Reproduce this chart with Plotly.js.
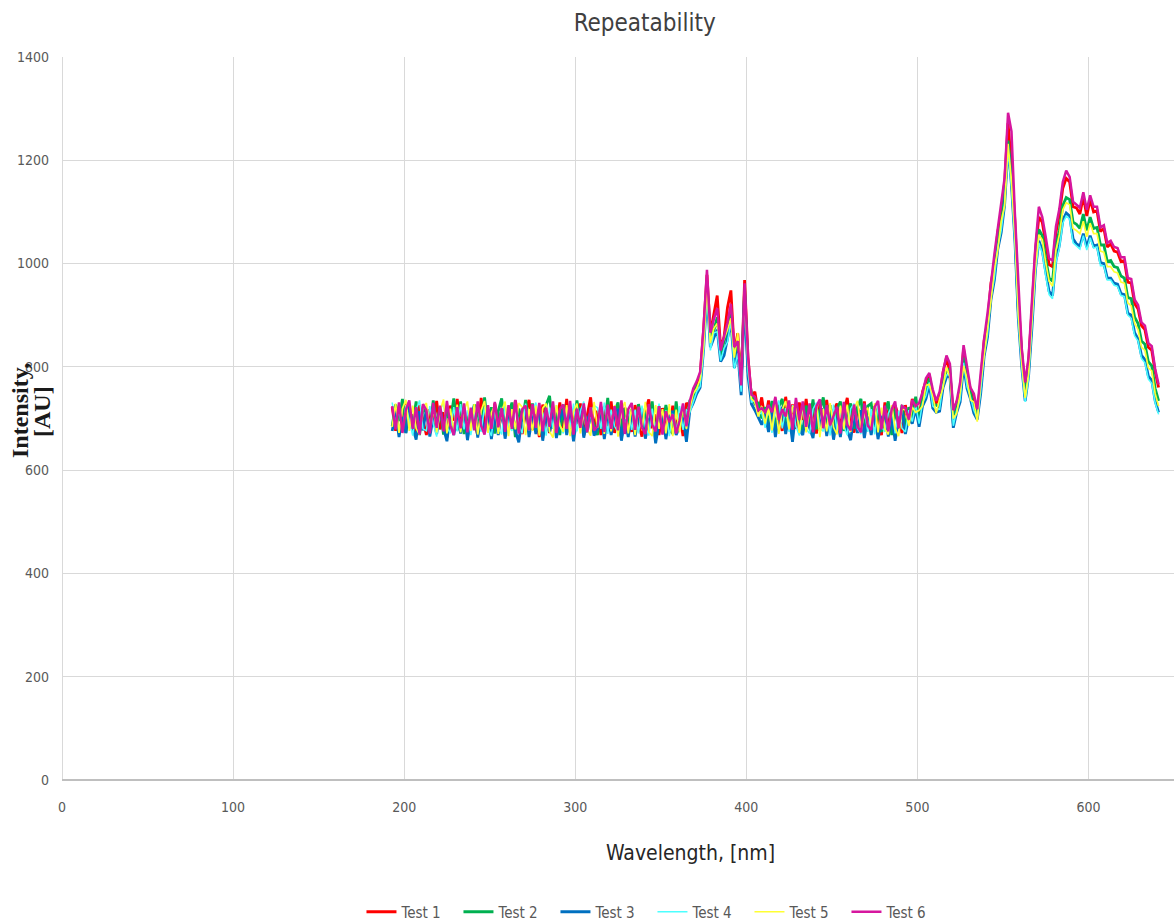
<!DOCTYPE html>
<html>
<head>
<meta charset="utf-8">
<script src="https://cdn.plot.ly/plotly-3.0.1.min.js"></script>
<style>html,body{margin:0;padding:0;background:#fff;}#chart{width:1174px;height:923px;}</style>
</head>
<body>
<div id="chart"></div>
<script>
const wavelength = [
193,195,197,199,201,203,205,207,209,211,
213,215,217,219,221,223,225,227,229,231,
233,235,237,239,241,243,245,247,249,251,
253,255,257,259,261,263,265,267,269,271,
273,275,277,279,281,283,285,287,289,291,
293,295,297,299,301,303,305,307,309,311,
313,315,317,319,321,323,325,327,329,331,
333,335,337,339,341,343,345,347,349,351,
353,355,357,359,361,363,365,367,369,371,
373,375,377,379,381,383,385,387,389,391,
393,395,397,399,401,403,405,407,409,411,
413,415,417,419,421,423,425,427,429,431,
433,435,437,439,441,443,445,447,449,451,
453,455,457,459,461,463,465,467,469,471,
473,475,477,479,481,483,485,487,489,491,
493,495,497,499,501,503,505,507,509,511,
513,515,517,519,521,523,525,527,529,531,
533,535,537,539,541,543,545,547,549,551,
553,555,557,559,561,563,565,567,569,571,
573,575,577,579,581,583,585,587,589,591,
593,595,597,599,601,603,605,607,609,611,
613,615,617,619,621,623,625,627,629,631,
633,635,637,639,641
];

const test1 = [
722,676,715,690,731,682,708,671,726,694,
668,718,687,734,679,712,663,725,696,738,
684,721,670,712,693,668,740,688,716,675,
729,691,716,667,722,684,735,702,670,713,
736,678,709,664,727,695,672,718,689,731,
681,738,673,712,690,729,667,706,741,679,
715,668,724,686,733,672,710,662,721,697,
674,726,690,665,716,737,681,708,668,720,
693,672,725,681,711,666,730,722,752,768,
782,870,978,865,898,938,836,858,915,948,
828,865,768,968,818,742,752,712,741,696,
735,688,730,702,676,742,693,727,680,731,
697,738,683,719,671,728,694,736,678,716,
729,684,714,740,690,673,722,695,733,681,
678,724,691,668,731,698,680,725,706,672,
726,690,738,716,698,752,772,785,741,730,
738,790,818,786,712,732,750,835,779,758,
728,712,770,850,886,962,998,1062,1094,1158,
1272,1190,1082,928,828,752,812,912,1024,1090,
1080,1040,998,994,1060,1096,1146,1165,1158,1110,
1108,1096,1130,1092,1124,1100,1102,1062,1068,1032,
1038,1024,1022,1004,1006,964,962,922,912,880,
872,838,832,790,760
];

const test2 = [
685,727,695,738,672,714,690,733,668,719,
712,679,735,684,723,669,716,692,739,677,
733,670,707,688,727,712,676,741,682,722,
671,714,739,678,706,731,664,719,694,736,
690,729,675,718,662,726,744,680,715,668,
727,686,716,671,735,690,722,673,709,688,
668,722,683,740,676,713,731,679,720,692,
718,670,728,693,712,680,733,666,724,685,
726,689,670,733,680,717,694,735,740,762,
768,850,958,860,870,896,822,850,866,908,
812,848,770,950,792,748,728,730,700,722,
688,734,680,723,738,684,719,672,730,693,
676,725,692,737,679,716,741,683,726,670,
718,733,676,712,729,680,722,738,674,724,
729,683,718,674,713,733,668,719,680,726,
681,722,702,742,694,738,750,778,728,726,
722,772,792,796,690,726,742,818,770,750,
720,710,760,832,872,944,982,1044,1076,1132,
1238,1166,1062,908,815,742,795,890,1004,1066,
1054,1010,972,966,1036,1064,1112,1128,1124,1080,
1076,1068,1096,1064,1090,1068,1070,1036,1036,1004,
1006,994,992,976,972,934,932,896,884,850,
844,810,802,758,734
];

const test3 = [
676,712,664,703,672,725,683,659,714,677,
719,665,702,670,722,681,656,710,668,706,
671,715,658,700,724,663,707,672,718,660,
708,668,719,661,697,716,676,654,705,722,
664,706,670,718,657,709,674,713,662,701,
716,668,708,656,702,720,663,697,712,667,
679,714,660,707,668,703,719,657,698,664,
713,665,702,719,661,696,708,652,693,709,
660,701,715,668,684,702,655,716,730,748,
760,832,946,838,856,872,810,822,855,888,
798,830,745,942,782,728,716,702,688,708,
674,718,664,706,722,670,708,655,715,679,
668,711,682,662,716,676,720,666,706,659,
702,664,713,677,658,708,672,716,662,704,
668,707,660,699,716,665,704,657,697,713,
670,702,690,720,684,724,738,766,720,712,
714,760,780,784,682,712,732,804,758,738,
710,698,748,820,858,930,968,1028,1060,1114,
1228,1152,1046,894,800,734,782,878,988,1044,
1026,984,946,938,1006,1036,1084,1098,1092,1048,
1038,1034,1058,1032,1054,1034,1036,1002,1000,972,
972,962,960,942,940,904,900,866,854,822,
814,782,774,734,712
];

const test4 = [
731,688,718,672,726,694,667,717,735,680,
676,724,690,665,716,731,683,671,722,675,
728,679,716,668,710,727,674,723,682,666,
720,681,669,728,686,676,724,690,671,729,
677,716,731,672,712,667,721,680,726,686,
671,719,681,729,675,714,733,672,709,725,
721,680,731,670,717,685,673,724,681,719,
678,717,671,725,684,667,719,678,729,669,
716,666,709,672,724,678,717,712,734,752,
762,826,942,832,866,868,812,836,848,888,
796,826,752,936,790,732,734,706,712,682,
726,672,716,735,681,720,674,726,685,667,
722,680,671,718,731,683,675,716,667,727,
677,721,685,668,719,729,680,670,717,674,
718,669,729,684,674,710,723,671,715,681,
674,716,694,726,690,730,744,770,724,718,
718,766,784,786,686,716,736,808,762,742,
716,700,752,824,862,934,972,1032,1064,1116,
1218,1146,1040,892,798,732,778,874,984,1040,
1020,976,940,932,1002,1030,1078,1092,1086,1040,
1034,1028,1054,1026,1050,1030,1032,996,996,968,
968,958,956,938,936,900,894,860,850,816,
808,776,768,730,708
];

const test5 = [
684,729,672,719,736,676,725,681,669,722,
730,678,720,673,714,737,671,719,677,727,
673,716,733,676,728,669,715,734,672,711,
726,670,714,733,666,718,679,730,722,668,
718,676,725,667,720,729,675,663,726,687,
674,726,666,713,729,671,722,679,667,732,
682,729,670,720,675,726,665,717,732,671,
724,668,719,677,732,674,666,726,680,718,
671,728,666,717,673,724,680,720,748,758,
776,838,956,846,874,884,840,854,872,894,
818,866,774,946,810,738,732,704,724,690,
721,677,730,670,717,734,679,722,727,672,
729,673,716,679,726,664,719,675,730,683,
669,725,679,727,674,719,734,678,712,721,
682,730,673,721,680,669,726,681,666,718,
717,686,722,712,716,724,764,766,744,710,
738,760,800,780,700,710,750,802,778,736,
732,694,768,820,880,928,990,1026,1082,1112,
1232,1160,1056,904,808,740,788,886,996,1056,
1046,1002,966,956,1026,1056,1104,1118,1114,1068,
1064,1058,1082,1052,1078,1058,1058,1024,1022,994,
994,984,982,964,962,924,918,884,872,838,
832,798,792,748,724
];

const test6 = [
724,679,731,672,717,735,680,722,669,728,
716,671,730,682,725,675,734,686,668,722,
681,729,673,721,677,733,686,669,726,680,
732,683,720,674,726,680,736,671,718,725,
677,728,682,730,675,721,684,733,672,718,
727,680,734,669,719,682,729,673,722,677,
685,732,674,727,680,724,677,735,670,718,
730,678,723,682,670,728,688,675,724,669,
714,693,708,671,696,729,685,734,758,772,
790,876,988,866,892,914,832,860,886,922,
838,850,764,962,820,746,742,716,720,712,
726,712,742,697,718,704,735,678,740,697,
733,684,729,673,724,737,681,726,687,705,
723,671,732,688,677,727,684,673,729,686,
678,722,734,679,725,675,718,733,681,724,
720,698,736,724,730,750,778,788,756,734,
752,790,822,806,716,734,770,842,796,760,
748,718,788,854,904,966,1018,1068,1114,1166,
1292,1256,1096,950,836,770,818,930,1034,1110,
1090,1052,1010,1006,1072,1106,1158,1180,1168,1120,
1114,1108,1138,1104,1132,1110,1110,1070,1074,1040,
1044,1032,1030,1012,1012,972,970,930,920,886,
880,846,840,796,766
];

const seriesNames = ["Test 1","Test 2","Test 3","Test 4","Test 5","Test 6"];
const seriesData = [test1, test2, test3, test4, test5, test6];
const seriesColors = ["#FF0000","#00B050","#0070C0","#4DFFFF","#FFFF33","#D6169E"];
const seriesWidths = [2.8, 2.8, 2.8, 1.5, 1.7, 2.5];

const traces = seriesNames.map((name, k) => ({
  type: "scatter",
  mode: "lines",
  name: name,
  x: wavelength,
  y: seriesData[k],
  line: {color: seriesColors[k], width: seriesWidths[k]},
  hoverinfo: "x+y+name"
}));

const FONT = "'Liberation Sans Narrow', 'DejaVu Sans Condensed', 'Roboto', sans-serif";

const layout = {
  width: 1174,
  height: 923,
  margin: {l: 62, r: 0, t: 57, b: 143, pad: 0, autoexpand: false},
  paper_bgcolor: "#ffffff",
  plot_bgcolor: "#ffffff",
  font: {family: FONT, color: "#595959", size: 14},
  title: {
    text: "Repeatability",
    font: {family: FONT, size: 24, color: "#404040"},
    xref: "paper", x: 0.524, xanchor: "center",
    yref: "container", y: 0.976, yanchor: "middle"
  },
  showlegend: true,
  legend: {
    orientation: "h",
    xref: "paper", x: 0.531, xanchor: "center",
    yref: "container", y: 0.0119, yanchor: "middle",
    font: {family: FONT, size: 15, color: "#595959"},
    itemwidth: 30,
    entrywidth: 52,
    entrywidthmode: "pixels",
    tracegroupgap: 0
  },
  xaxis: {
    range: [0, 650],
    dtick: 100,
    tick0: 0,
    showgrid: true,
    gridcolor: "#d9d9d9",
    gridwidth: 1,
    zeroline: true,
    zerolinecolor: "#d9d9d9",
    zerolinewidth: 1,
    showline: false,
    ticks: "",
    ticklabelstandoff: 17,
    tickfont: {family: FONT, size: 14, color: "#595959"},
    fixedrange: true
  },
  yaxis: {
    range: [0, 1400],
    dtick: 200,
    tick0: 0,
    showgrid: true,
    gridcolor: "#d9d9d9",
    gridwidth: 1,
    zeroline: true,
    zerolinecolor: "#bfbfbf",
    zerolinewidth: 1.5,
    showline: false,
    ticks: "",
    ticklabelstandoff: 12,
    tickfont: {family: FONT, size: 14, color: "#595959"},
    fixedrange: true
  },
  annotations: [
    {
      text: "Wavelength, [nm]",
      xref: "paper", x: 0.565, xanchor: "center",
      yref: "paper", y: -0.1010, yanchor: "middle",
      showarrow: false,
      font: {family: FONT, size: 21, color: "#262626"}
    },
    {
      text: "<b>Intensity,</b>",
      xref: "paper", x: -0.0378, xanchor: "center",
      yref: "paper", y: 0.5117, yanchor: "middle",
      textangle: -90,
      showarrow: false,
      font: {family: "'Liberation Serif', 'DejaVu Serif', serif", size: 24, color: "#1a1a1a"}
    },
    {
      text: "<b>[AU]</b>",
      xref: "paper", x: -0.0180, xanchor: "center",
      yref: "paper", y: 0.5104, yanchor: "middle",
      textangle: -90,
      showarrow: false,
      font: {family: "'Liberation Serif', 'DejaVu Serif', serif", size: 24, color: "#1a1a1a"}
    }
  ]
};

Plotly.newPlot("chart", traces, layout, {displayModeBar: false, staticPlot: true});
</script>
</body>
</html>
